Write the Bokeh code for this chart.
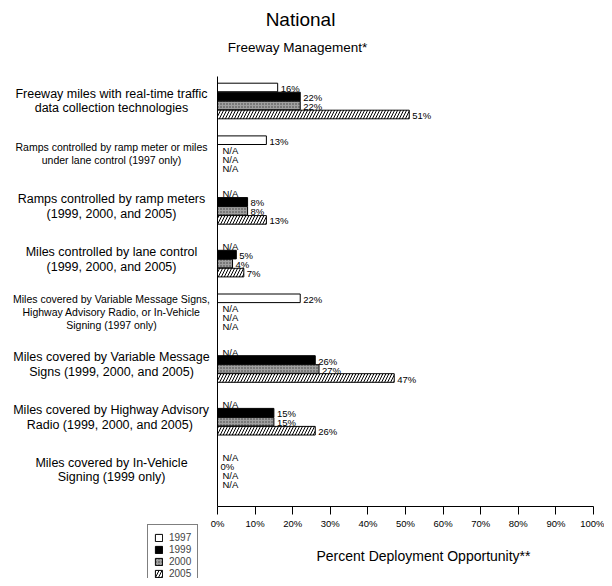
from bokeh.plotting import figure
from bokeh.models import (Range1d, FixedTicker, Legend, LegendItem, ColumnDataSource,
                          LinearAxis)
from bokeh.core.properties import value
from bokeh.embed import file_html
from bokeh.resources import INLINE

# ---------------- data ----------------
categories = [
    "Freeway miles with real-time traffic\ndata collection technologies",
    "Ramps controlled by ramp meter or miles\nunder lane control (1997 only)",
    "Ramps controlled by ramp meters\n(1999, 2000, and 2005)",
    "Miles controlled by lane control\n(1999, 2000, and 2005)",
    "Miles covered by Variable Message Signs,\nHighway Advisory Radio, or In-Vehicle\nSigning (1997 only)",
    "Miles covered by Variable Message\nSigns (1999, 2000, and 2005)",
    "Miles covered by Highway Advisory\nRadio (1999, 2000,  and 2005)",
    "Miles covered by In-Vehicle\nSigning (1999 only)",
]
years = ["1997", "1999", "2000", "2005"]
v1997 = [16, 13, None, None, 22, None, None, None]
v1999 = [22, None, 8, 5, None, 26, 15, 0]
v2000 = [22, None, 8, 4, None, 27, 15, None]
v2005 = [51, None, 13, 7, None, 47, 26, None]
x_ticks = [0, 10, 20, 30, 40, 50, 60, 70, 80, 90, 100]
x_tick_labels = ["0%", "10%", "20%", "30%", "40%", "50%", "60%", "70%", "80%", "90%", "100%"]
title_text = "National"
subtitle_text = "Freeway Management*"
xtitle_text = "Percent Deployment Opportunity**"

# ---------------- layout / style ----------------
FONT = "Liberation Sans"
W, H = 604, 578
X0, X100 = 217, 593        # canvas px of 0% and 100%
PX_X = (X100 - X0) / 100.0
G0 = 100.5                 # canvas px of first group centre
PX_Y = 52.7                # canvas px between group centres
AXIS_Y = 506               # canvas px of the x axis line
AXIS_TOP = 76
small_label = [False, True, False, False, True, False, False, False]


def xd(px):
    return (px - X0) / PX_X


def yd(py):
    return (py - G0) / PX_Y


PITCH = 9.0 / PX_Y
BAR_H = 8.6 / PX_Y

p = figure(width=W, height=H, output_backend="svg", toolbar_location=None,
           x_range=Range1d(xd(0), xd(W)), y_range=Range1d(yd(H), yd(0)),
           x_axis_location=None, y_axis_location=None,
           min_border=0, min_border_left=0, min_border_right=0,
           min_border_top=0, min_border_bottom=0)
p.outline_line_color = None
p.background_fill_color = "white"
p.border_fill_color = "white"
p.xgrid.visible = False
p.ygrid.visible = False

# x axis, fixed at the bottom of the bar area
xaxis = LinearAxis(fixed_location=yd(AXIS_Y), bounds=(0, 100),
                   ticker=FixedTicker(ticks=x_ticks),
                   major_label_overrides={t: l for t, l in zip(x_ticks, x_tick_labels)},
                   major_label_text_font=FONT, major_label_text_font_size="9.5px",
                   major_label_text_color="black", major_tick_out=8, major_tick_in=0,
                   minor_tick_line_color=None, axis_line_color="black",
                   major_tick_line_color="black", major_label_standoff=3)
p.add_layout(xaxis, "below")

# y axis: plain vertical line at 0%
yaxis = LinearAxis(fixed_location=0, bounds=(yd(AXIS_Y), yd(AXIS_TOP)),
                   ticker=FixedTicker(ticks=[]), major_tick_line_color=None,
                   minor_tick_line_color=None, axis_line_color="black",
                   major_label_text_font_size="0px")
p.add_layout(yaxis, "left")

styles = [
    dict(fill_color="white"),
    dict(fill_color="black"),
    dict(fill_color="#a0a0a0", hatch_pattern="dot", hatch_color="#3c3c3c",
         hatch_scale=3, hatch_weight=1),
    dict(fill_color="white", hatch_pattern="right_diagonal_line", hatch_color="black",
         hatch_scale=6, hatch_weight=1),
]

series = [v1997, v1999, v2000, v2005]
legend_items = []
for k, (yr, vals) in enumerate(zip(years, series)):
    off = (k - 1.5) * PITCH
    ys = [i + off for i, v in enumerate(vals) if v is not None]
    xs = [v for v in vals if v is not None]
    src = ColumnDataSource(dict(y=ys, v=xs, lab=[f"{v}%" for v in xs]))
    r = p.hbar(y="y", left=0, right="v", height=BAR_H, source=src,
               line_color="black", line_width=1, **styles[k])
    legend_items.append(LegendItem(label=yr, renderers=[r]))
    p.text(x="v", y="y", text="lab", source=src, x_offset=3, y_offset=1,
           text_font=value(FONT), text_font_size="9.5px", text_baseline="middle",
           text_color="black")
    nys = [i + off for i, v in enumerate(vals) if v is None]
    nsrc = ColumnDataSource(dict(y=nys, x=[0] * len(nys), lab=["N/A"] * len(nys)))
    p.text(x="x", y="y", text="lab", source=nsrc, x_offset=5, y_offset=1,
           text_font=value(FONT), text_font_size="9.5px", text_baseline="middle",
           text_color="black")

# category labels: centred blocks left of the axis
for small in (False, True):
    lx, ly, lt = [], [], []
    sp = 12.8 if small else 14.8
    for i, cat in enumerate(categories):
        if small_label[i] != small:
            continue
        lines = cat.split("\n")
        n = len(lines)
        for j, line in enumerate(lines):
            lx.append(xd(111))
            ly.append(i + (j - (n - 1) / 2) * sp / PX_Y)
            lt.append(line)
    p.text(x=lx, y=ly, text=lt, text_align="center", text_baseline="middle",
           text_font=value(FONT), text_font_size="10.5px" if small else "12.5px",
           text_color="black")

# titles
p.text(x=[xd(300)], y=[yd(19)], text=[title_text], text_align="center",
       text_baseline="middle", text_font=value(FONT), text_font_size="19px",
       text_color="black")
p.text(x=[xd(297)], y=[yd(47)], text=[subtitle_text], text_align="center",
       text_baseline="middle", text_font=value(FONT), text_font_size="13.5px",
       text_color="black")
p.text(x=[xd(423)], y=[yd(555)], text=[xtitle_text], text_align="center",
       text_baseline="middle", text_font=value(FONT), text_font_size="14px",
       text_color="black")

legend = Legend(items=legend_items, location=(147, H - 586),
                border_line_color="black", border_line_width=1,
                background_fill_color="white", background_fill_alpha=1,
                padding=6, spacing=0, margin=0,
                glyph_height=9, glyph_width=9, label_height=12,
                label_standoff=6, label_text_font=FONT,
                label_text_font_size="10px")
p.add_layout(legend)

open("out.html", "w").write(file_html(p, INLINE))
